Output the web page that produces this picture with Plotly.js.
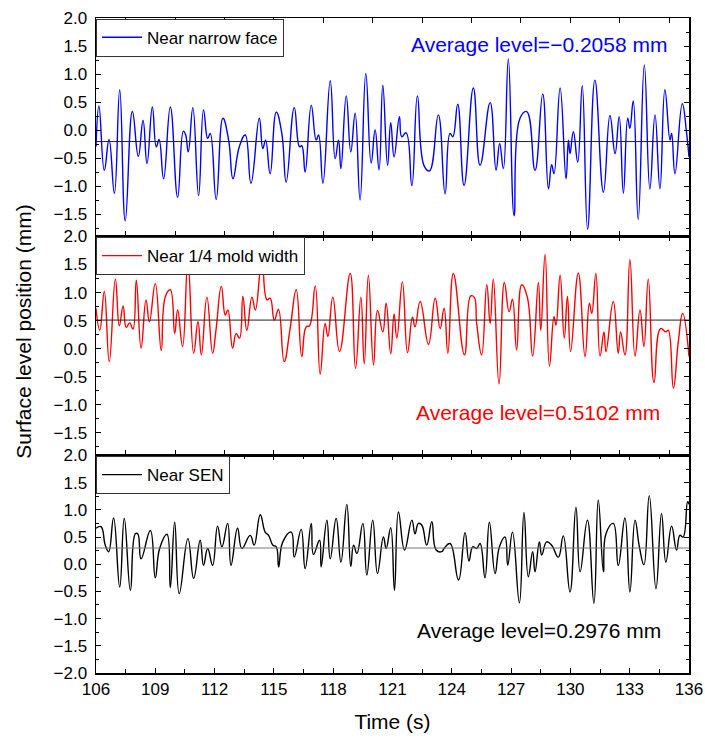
<!DOCTYPE html>
<html>
<head>
<meta charset="utf-8">
<script src="https://cdn.plot.ly/plotly-3.0.1.min.js"></script>
<style>html,body{margin:0;padding:0;background:#fff;}#chart{width:705px;height:738px;}</style>
</head>
<body>
<div id="chart"></div>
<script>
// ---- Data (time in s, surface level in mm) ----
var timeNarrow = [106.00,106.15,106.42,106.66,106.93,107.20,107.48,107.84,108.14,108.38,108.58,108.85,109.05,109.19,109.42,109.76,110.13,110.42,110.53,110.67,110.90,111.19,111.44,111.65,111.78,112.08,112.42,112.71,112.93,113.25,113.55,113.84,114.26,114.44,114.58,114.81,115.12,115.40,115.62,116.03,116.30,116.41,116.58,116.89,117.14,117.26,117.48,117.85,118.10,118.27,118.39,118.66,118.89,119.11,
  119.36,119.65,119.92,120.12,120.32,120.51,120.75,120.91,121.08,121.35,121.47,121.69,121.98,122.26,122.60,122.87,123.32,123.66,123.91,124.05,124.30,124.62,125.09,125.43,125.94,126.24,126.42,126.61,126.86,127.15,127.45,127.79,128.21,128.60,128.89,129.05,129.17,129.48,129.78,129.90,129.98,130.15,130.37,130.60,130.87,131.24,131.67,132.00,132.26,132.47,132.68,132.90,133.01,133.18,133.43,133.74,134.02,134.28,134.53,134.78,135.04,135.12,135.29,135.66,135.88,136.00];
var levelNarrow = [-0.30,0.43,-0.72,-0.17,-1.13,0.72,-1.62,0.33,-0.47,0.17,-0.60,0.41,-0.30,-0.17,-0.87,0.41,-1.20,-0.02,-0.08,-0.39,0.40,-1.17,0.36,-0.15,-0.06,-1.24,0.21,-0.18,-0.87,-0.30,-0.09,-0.95,0.21,-0.33,-0.18,-0.78,0.32,-0.06,-0.93,0.40,-0.30,-0.28,-0.75,0.44,-0.18,-0.09,-0.95,0.88,-0.51,-0.18,-0.69,0.61,-0.39,0.30,
  -1.25,1.01,-0.59,0.00,-0.71,0.80,-0.63,0.13,-0.48,0.24,-0.12,-0.05,-0.99,0.61,-0.64,-0.73,0.27,-1.14,-0.06,-0.12,0.46,-0.99,0.75,-0.63,0.49,-0.72,-0.24,-0.69,1.27,-1.53,0.21,0.33,-0.72,0.64,-1.05,-0.62,-0.78,0.75,-0.87,-0.18,-0.42,-0.03,-0.57,0.79,-1.77,0.89,-1.11,0.26,-0.42,0.24,-1.13,0.21,0.03,0.52,-1.60,1.16,-1.05,0.27,-1.05,0.72,-0.18,-0.06,-0.78,0.47,-0.06,-0.48];

var timeQuarter = [106.00,106.19,106.42,106.67,106.98,107.18,107.37,107.53,107.70,107.87,108.04,108.28,108.53,108.70,109.00,109.30,109.51,109.76,109.98,110.13,110.38,110.65,110.94,111.16,111.33,111.61,111.90,112.07,112.34,112.54,112.67,112.91,113.09,113.26,113.43,113.63,113.89,114.06,114.39,114.65,114.81,115.02,115.23,115.52,115.82,116.13,116.41,116.63,116.80,117.09,117.34,117.59,117.73,117.98,118.32,118.86,119.13,
  119.40,119.57,119.78,120.04,120.24,120.51,120.68,120.91,121.08,121.22,121.50,121.76,122.01,122.14,122.40,122.82,123.16,123.41,123.61,123.80,124.08,124.64,124.96,125.13,125.26,125.51,125.77,125.94,126.10,126.39,126.66,126.90,127.07,127.28,127.54,127.82,128.09,128.38,128.50,128.72,128.94,129.17,129.27,129.48,129.69,129.85,130.01,130.40,130.74,130.96,131.08,131.29,131.50,131.70,131.80,132.17,132.42,132.54,132.76,133.01,133.27,133.52,133.72,133.94,134.23,134.56,134.83,134.95,135.21,135.46,135.68,136.00];
var levelQuarter = [0.72,0.33,1.02,-0.23,1.24,0.41,0.76,0.38,0.46,0.35,1.22,0.01,0.87,0.48,1.16,-0.03,0.93,1.05,0.27,0.69,0.04,1.55,-0.08,0.48,-0.11,0.92,-0.08,0.33,1.11,0.60,0.69,0.01,0.27,0.19,0.93,0.33,0.92,0.69,1.55,0.87,0.90,0.51,0.70,-0.23,0.36,1.05,-0.14,0.39,0.41,1.12,-0.45,0.45,0.22,0.92,-0.05,1.34,-0.35,
  0.92,-0.27,1.31,-0.29,0.68,0.30,0.81,-0.09,0.62,0.19,1.19,-0.07,0.56,0.39,0.84,0.08,0.90,0.36,0.72,-0.08,1.34,-0.11,0.94,0.92,0.45,-0.11,1.14,0.45,1.24,-0.63,1.18,0.66,0.88,-0.02,1.14,0.92,-0.13,1.18,0.33,1.68,-0.31,0.57,0.42,1.31,0.19,0.93,-0.05,1.35,-0.14,0.81,0.63,1.34,-0.13,0.30,-0.05,0.84,-0.08,0.30,-0.11,1.59,-0.13,0.69,0.04,1.24,-0.60,0.36,0.30,0.33,-0.70,0.13,0.63,-0.14];

var timeSEN = [106.00,106.25,106.47,106.64,106.89,107.20,107.43,107.74,107.99,108.11,108.28,108.75,109.00,109.22,109.59,109.76,109.98,110.21,110.65,110.94,111.27,111.44,111.65,111.90,112.15,112.37,112.66,112.83,113.16,113.38,113.80,114.00,114.31,114.56,114.73,114.95,115.12,115.24,115.45,115.88,116.03,116.38,116.58,116.89,117.00,117.31,117.39,117.68,117.85,118.15,118.39,118.69,118.89,119.03,119.20,
  119.50,119.70,120.00,120.24,120.54,120.68,120.91,121.10,121.30,121.61,121.98,122.14,122.31,122.48,122.73,122.99,123.21,123.49,123.61,123.91,124.34,124.67,124.87,125.06,125.26,125.43,125.68,125.90,126.19,126.41,126.69,126.83,127.07,127.42,127.65,127.87,128.09,128.21,128.43,128.55,128.80,129.05,129.39,129.64,129.98,130.28,130.49,130.86,131.19,131.41,131.67,131.80,132.17,132.42,132.76,133.01,133.27,133.49,133.72,133.99,134.33,134.61,134.83,135.12,135.37,135.54,135.70,135.93,136.00];
var levelSEN = [0.66,0.69,0.35,0.23,0.85,-0.42,0.84,-0.48,0.56,0.56,0.10,0.62,-0.25,0.29,0.55,-0.43,0.77,-0.54,0.47,-0.26,0.44,-0.02,0.29,-0.02,0.70,0.32,0.75,-0.02,0.66,0.29,0.53,0.35,0.91,0.59,0.53,0.35,0.32,-0.05,0.41,0.59,0.13,0.64,-0.08,0.75,0.18,0.44,-0.05,0.81,0.10,0.84,0.04,1.10,-0.04,0.35,0.20,
  0.75,-0.20,0.81,-0.17,0.50,0.29,0.67,-0.48,0.96,0.26,0.81,0.56,0.75,0.72,0.35,0.78,0.26,0.23,0.29,0.38,-0.29,0.58,0.06,0.32,0.29,0.38,-0.25,0.77,-0.17,0.32,0.50,-0.02,0.59,-0.71,0.95,-0.23,0.23,-0.14,0.41,0.17,0.41,0.35,0.13,0.52,-0.51,1.05,-0.14,0.81,-0.72,1.18,-0.14,0.56,0.75,-0.02,0.85,-0.51,0.81,0.32,-0.01,1.26,-0.45,0.93,0.04,0.70,0.26,0.53,0.50,1.15,1.10];

var seriesNames = ["Near narrow face", "Near 1/4 mold width", "Near SEN"];
var averageLevels = [-0.2058, 0.5102, 0.2976];
var averageLabels = ["Average level=\u22120.2058 mm", "Average level=0.5102 mm", "Average level=0.2976 mm"];
var xTickVals = [106,109,112,115,118,121,124,127,130,133,136];

// ---- Styling ----
var FONT = "Liberation Sans, Arial, sans-serif";
var colors = ["#0000ff", "#ff0000", "#000000"];
var avgLineColors = ["#222222", "#222222", "#777777"];

var traces = [
  {x: timeNarrow, y: levelNarrow, xaxis: "x3", yaxis: "y3", legend: "legend"},
  {x: timeQuarter, y: levelQuarter, xaxis: "x2", yaxis: "y2", legend: "legend2"},
  {x: timeSEN, y: levelSEN, xaxis: "x", yaxis: "y", legend: "legend3"}
].map(function (t, i) {
  t.type = "scatter";
  t.mode = "lines";
  t.name = seriesNames[i];
  t.line = {color: colors[i], width: 1.4, shape: "spline", smoothing: 1.3};
  t.hoverinfo = "skip";
  return t;
});

var axisCommon = {
  showline: true, linecolor: "#000", linewidth: 1.5, mirror: "ticks",
  ticks: "inside", tickcolor: "#000", tickwidth: 1, zeroline: false, showgrid: false,
  tickfont: {family: FONT, size: 17, color: "#000"}
};
function merge(a, b) { var o = {}; for (var k in a) o[k] = a[k]; for (var k2 in b) o[k2] = b[k2]; return o; }

var yAxisBase = merge(axisCommon, {
  dtick: 0.5, tick0: 0, ticklen: 5, tickformat: ".1f", ticklabelstandoff: 4,
  minor: {dtick: 0.25, ticks: "inside", ticklen: 3, tickcolor: "#000", tickwidth: 1, showgrid: false}
});
var xAxisTop = merge(axisCommon, {
  range: [106, 136], tick0: 105, dtick: 2.5, ticklen: 5, showticklabels: false
});

var domains = [[0.6665, 1], [0.3322, 0.6665], [0, 0.3322]];

var layout = {
  width: 705, height: 738,
  margin: {l: 96, r: 16, t: 18, b: 65},
  paper_bgcolor: "#fff", plot_bgcolor: "#fff",
  font: {family: FONT, color: "#000"},
  showlegend: true,
  xaxis: merge(axisCommon, {
    anchor: "y", range: [106, 136], tickvals: xTickVals, ticklen: 5,
    minor: {dtick: 1.5, tick0: 106, ticks: "inside", ticklen: 4, tickcolor: "#000", tickwidth: 1, showgrid: false},
    title: {text: "Time (s)", font: {family: FONT, size: 21}, standoff: 16}
  }),
  xaxis2: merge(xAxisTop, {anchor: "y2", matches: "x"}),
  xaxis3: merge(xAxisTop, {anchor: "y3", matches: "x"}),
  yaxis: merge(yAxisBase, {domain: domains[2], range: [-2, 2], anchor: "x"}),
  yaxis2: merge(yAxisBase, {domain: domains[1], range: [-1.9, 2], anchor: "x2"}),
  yaxis3: merge(yAxisBase, {domain: domains[0], range: [-1.9, 2], anchor: "x3"}),
  shapes: [],
  annotations: []
};

var legendKeys = ["legend", "legend2", "legend3"];
legendKeys.forEach(function (k, i) {
  layout[k] = {
    x: 0.0, y: domains[i][1] - 0.001, xanchor: "left", yanchor: "top",
    bgcolor: "#fff", bordercolor: "#333", borderwidth: 1,
    font: {family: FONT, size: 17, color: "#000"}, itemwidth: 40,
    tracegroupgap: 0
  };
});

var yRefs = ["y3", "y2", "y"];
var xRefs = ["x3", "x2", "x"];
averageLevels.forEach(function (v, i) {
  layout.shapes.push({
    type: "line", xref: xRefs[i] + " domain", x0: 0, x1: 1, yref: yRefs[i], y0: v, y1: v,
    line: {color: avgLineColors[i], width: 1}, layer: "above"
  });
});

var annotPos = [[0.966, 0.959], [0.954, 0.397], [0.956, 0.0656]];
averageLabels.forEach(function (txt, i) {
  layout.annotations.push({
    text: txt, xref: "paper", yref: "paper", x: annotPos[i][0], y: annotPos[i][1],
    xanchor: "right", yanchor: "middle", showarrow: false,
    font: {family: FONT, size: 21, color: colors[i]}
  });
});
layout.annotations.push({
  text: "Surface level position (mm)", xref: "paper", yref: "paper",
  x: -0.1214, y: 0.521, xanchor: "center", yanchor: "middle", textangle: -90,
  showarrow: false, font: {family: FONT, size: 21, color: "#000"}
});

Plotly.newPlot("chart", traces, layout, {displayModeBar: false, staticPlot: true});
</script>
</body>
</html>
